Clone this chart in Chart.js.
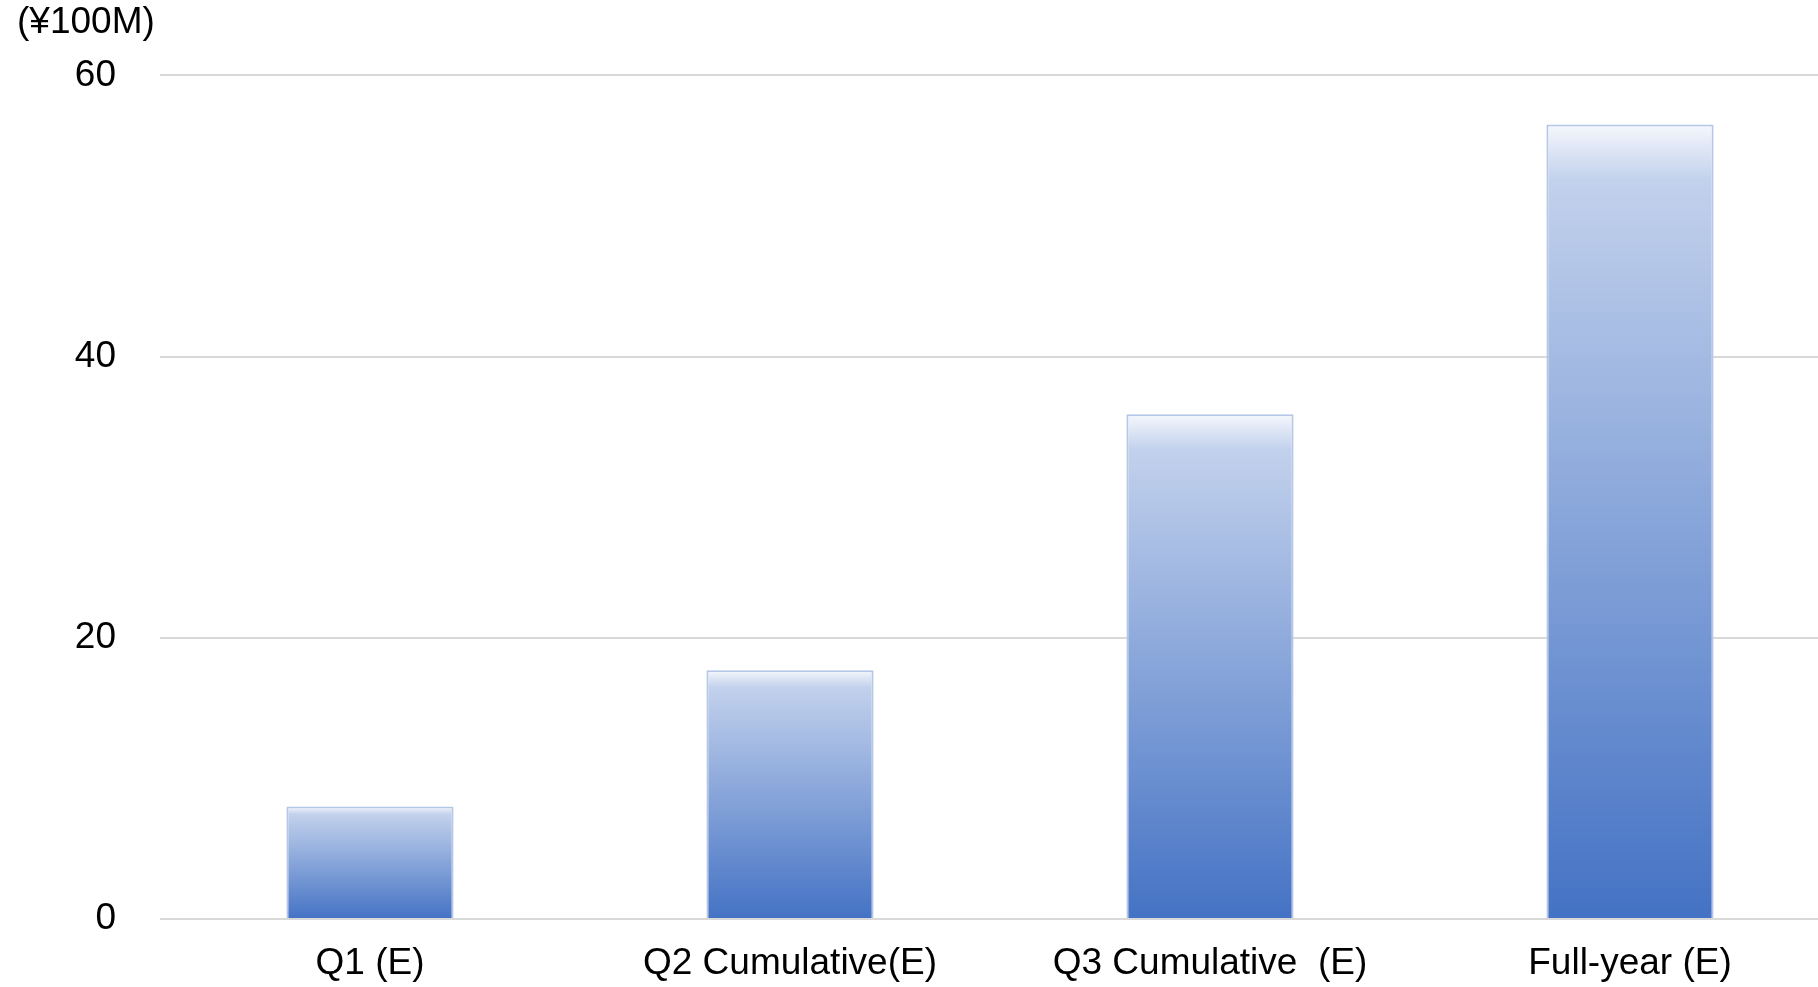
<!DOCTYPE html>
<html>
<head>
<meta charset="utf-8">
<script src="https://cdn.jsdelivr.net/npm/chart.js@4"></script>
<style>
  html, body { margin: 0; padding: 0; background: #fff; overflow: hidden; }
  /* la zone de tracé dépasse à droite, comme sur l'original */
  .wrap { width: 1840px; height: 987px; position: relative; }
</style>
</head>
<body>
<div class="wrap"><canvas id="salesChart"></canvas></div>
<script>
// Données
const categories = ['Q1 (E)', 'Q2 Cumulative(E)', 'Q3 Cumulative  (E)', 'Full-year (E)'];
const values = [8.0, 17.7, 35.9, 56.5];
const unitLabel = '(¥100M)';
const yTicks = [0, 20, 40, 60];

const FONT = 'Arial, "Liberation Sans", sans-serif';

// Dégradé vertical par barre (clair en haut, bleu en bas)
function barGradient(context) {
    const chart = context.chart;
    const yScale = chart.scales.y;
    if (!chart.chartArea || !yScale || context.raw === undefined) return '#8ca8dc';
    const top = yScale.getPixelForValue(context.raw);
    const bottom = yScale.getPixelForValue(0);
    const g = chart.ctx.createLinearGradient(0, top, 0, bottom);
    g.addColorStop(0, '#f5f7fc');
    g.addColorStop(0.07, '#c2d1ec');
    g.addColorStop(1, '#4472c4');
    return g;
}

const ctx = document.getElementById('salesChart').getContext('2d');
const salesChart = new Chart(ctx, {
    type: 'bar',
    data: {
        labels: categories,
        datasets: [{
            data: values,
            backgroundColor: barGradient,
            borderColor: '#b4c7e7',
            borderWidth: 2,
            categoryPercentage: 1,
            barPercentage: 0.398
        }]
    },
    options: {
        responsive: true,
        maintainAspectRatio: false,
        animation: false,
        layout: { padding: { top: 1, left: 17, right: 0, bottom: 5 } },
        plugins: {
            legend: { display: false },
            tooltip: { enabled: false },
            title: {
                display: true,
                text: unitLabel,
                align: 'start',
                color: '#000',
                font: { family: FONT, size: 37, weight: 'normal' },
                padding: { top: 0, bottom: 30 }
            }
        },
        scales: {
            x: {
                afterFit: (scale) => { scale.height = 63; },
                grid: { display: false, drawTicks: false },
                border: { display: false },
                ticks: {
                    color: '#000',
                    font: { family: FONT, size: 37 },
                    padding: 23,
                    maxRotation: 0,
                    autoSkip: false
                }
            },
            y: {
                min: 0,
                max: 60,
                afterFit: (scale) => { scale.width = 143; },
                afterBuildTicks: (scale) => { scale.ticks = yTicks.map(v => ({ value: v })); },
                grid: { color: '#d9d9d9', lineWidth: 2, drawTicks: false },
                border: { display: false },
                ticks: {
                    color: '#000',
                    font: { family: FONT, size: 37 },
                    padding: 44
                }
            }
        }
    }
});
</script>
</body>
</html>
